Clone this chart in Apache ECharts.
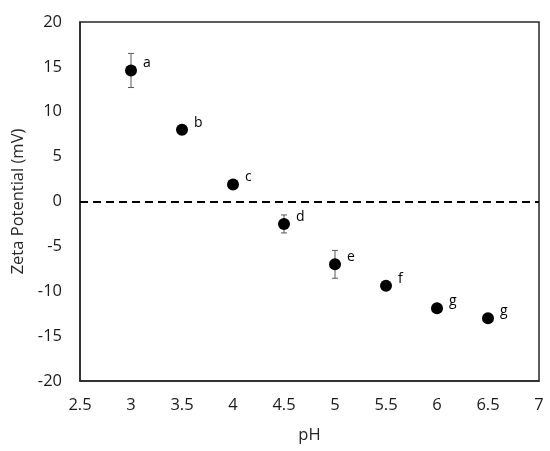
<!DOCTYPE html>
<html>
<head>
<meta charset="utf-8">
<script src="https://cdn.jsdelivr.net/npm/echarts@6/dist/echarts.min.js"></script>
<style>html,body{margin:0;padding:0;background:#fff;}#chart{width:550px;height:451px;}</style>
</head>
<body>
<div id="chart"></div>
<script>
const phValues = [3, 3.5, 4, 4.5, 5, 5.5, 6, 6.5];
const zetaValues = [14.6, 8.0, 1.9, -2.5, -7.0, -9.4, -11.9, -13.0];
const errorValues = [1.9, 0.5, 0.3, 1.0, 1.55, 0.2, 0.2, 0.4];
const letterLabels = ['a', 'b', 'c', 'd', 'e', 'f', 'g', 'g'];
const xAxisRange = [2.5, 7, 0.5];
const yAxisRange = [-20, 20, 5];

const FONT = 'Open Sans';
const chart = echarts.init(document.getElementById('chart'), null, {renderer: 'canvas'});

const pointData = phValues.map((x, i) => [x, zetaValues[i]]);
const errData = phValues.map((x, i) => [x, zetaValues[i] - errorValues[i], zetaValues[i] + errorValues[i]]);

chart.setOption({
  animation: false,
  backgroundColor: '#fff',
  grid: {left: 80, right: 11, top: 22, bottom: 70, show: true, borderColor: '#262626', borderWidth: 1.5, backgroundColor: 'transparent'},
  xAxis: {
    type: 'value', min: xAxisRange[0], max: xAxisRange[1], interval: xAxisRange[2],
    name: 'pH', nameLocation: 'middle', nameGap: 46,
    nameTextStyle: {fontFamily: FONT, fontSize: 16.5, color: '#262626'},
    axisLine: {show: true, onZero: false, lineStyle: {color: '#262626', width: 1.5}},
    axisTick: {show: false}, splitLine: {show: false},
    axisLabel: {fontFamily: FONT, fontSize: 16.5, color: '#1a1a1a', margin: 16}
  },
  yAxis: {
    type: 'value', min: yAxisRange[0], max: yAxisRange[1], interval: yAxisRange[2],
    name: 'Zeta Potential (mV)', nameLocation: 'middle', nameGap: 50,
    nameTextStyle: {fontFamily: FONT, fontSize: 16.5, color: '#262626'},
    axisLine: {show: true, onZero: false, lineStyle: {color: '#262626', width: 1.5}},
    axisTick: {show: false}, splitLine: {show: false},
    axisLabel: {fontFamily: FONT, fontSize: 16.5, color: '#1a1a1a', margin: 18}
  },
  series: [
    {
      type: 'custom',
      data: errData,
      z: 3,
      renderItem: function (params, api) {
        const x = api.value(0);
        const lo = api.coord([x, api.value(1)]);
        const hi = api.coord([x, api.value(2)]);
        const cap = 3;
        const st = {stroke: '#595959', lineWidth: 1};
        return {type: 'group', children: [
          {type: 'line', shape: {x1: lo[0], y1: lo[1], x2: hi[0], y2: hi[1]}, style: st},
          {type: 'line', shape: {x1: lo[0] - cap, y1: lo[1], x2: lo[0] + cap, y2: lo[1]}, style: st},
          {type: 'line', shape: {x1: hi[0] - cap, y1: hi[1], x2: hi[0] + cap, y2: hi[1]}, style: st}
        ]};
      }
    },
    {
      type: 'scatter',
      data: pointData,
      symbol: 'circle', symbolSize: 12,
      z: 4,
      itemStyle: {color: '#000', opacity: 1},
      label: {
        show: true, position: 'right', distance: 6, offset: [0, -7],
        fontFamily: FONT, fontSize: 14, color: '#000', opacity: 1,
        formatter: p => letterLabels[p.dataIndex]
      },
      markLine: {
        silent: true, symbol: 'none', label: {show: false},
        lineStyle: {color: '#000', type: [8, 5], width: 2, opacity: 1},
        data: [{yAxis: 0}]
      }
    }
  ]
});
</script>
</body>
</html>
